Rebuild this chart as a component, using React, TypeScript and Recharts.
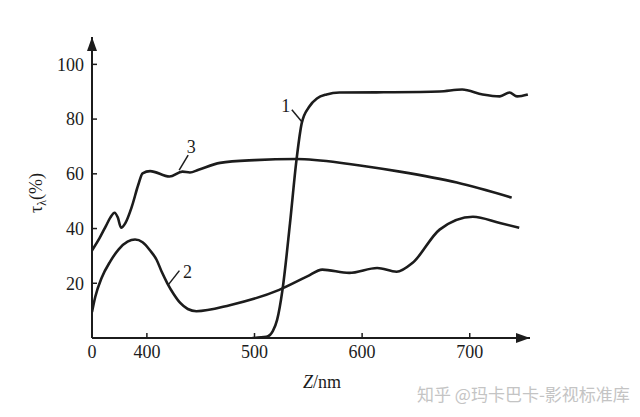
import { LineChart, Line, XAxis, YAxis, ReferenceDot } from 'recharts';

// wavelength (nm) / transmittance (%)
const curve1 = [
  { nm: 498, v: 0 }, { nm: 511, v: 0.4 }, { nm: 517, v: 2.5 }, { nm: 521, v: 6.6 },
  { nm: 526, v: 17.6 }, { nm: 533, v: 42 }, { nm: 539, v: 65 }, { nm: 544, v: 78.7 },
  { nm: 551, v: 84.6 }, { nm: 558, v: 87.5 }, { nm: 567, v: 89 }, { nm: 579, v: 89.7 },
  { nm: 620, v: 89.8 }, { nm: 672, v: 90.1 }, { nm: 693, v: 90.8 }, { nm: 712, v: 89 },
  { nm: 728, v: 88.3 }, { nm: 737, v: 89.7 }, { nm: 744, v: 88.3 }, { nm: 754, v: 89 },
];

const curve2 = [
  { nm: 349, v: 9.5 }, { nm: 352, v: 15 }, { nm: 358, v: 22 }, { nm: 366, v: 28 },
  { nm: 374, v: 32.5 }, { nm: 382, v: 35.2 }, { nm: 389, v: 36 }, { nm: 396, v: 35 },
  { nm: 403, v: 32 }, { nm: 409, v: 28.6 }, { nm: 414, v: 24 }, { nm: 419, v: 20 },
  { nm: 425, v: 16 }, { nm: 431, v: 12.8 }, { nm: 438, v: 10.6 }, { nm: 446, v: 9.8 },
  { nm: 477, v: 12 }, { nm: 523, v: 17.6 }, { nm: 549, v: 22.5 }, { nm: 563, v: 25 },
  { nm: 588, v: 23.8 }, { nm: 614, v: 25.6 }, { nm: 632, v: 24.2 }, { nm: 647, v: 27.5 },
  { nm: 672, v: 39.6 }, { nm: 703, v: 44.3 }, { nm: 728, v: 42 }, { nm: 746, v: 40.3 },
];

const curve3 = [
  { nm: 349, v: 32 }, { nm: 356, v: 36.5 }, { nm: 362, v: 41 }, { nm: 366, v: 44 },
  { nm: 370, v: 45.8 }, { nm: 373, v: 44 }, { nm: 376, v: 40.3 }, { nm: 380, v: 42 },
  { nm: 386, v: 48 }, { nm: 392, v: 56 }, { nm: 396, v: 60.2 }, { nm: 403, v: 61 },
  { nm: 421, v: 59 }, { nm: 433, v: 60.8 }, { nm: 440, v: 60.5 }, { nm: 448, v: 61.5 },
  { nm: 468, v: 64 }, { nm: 500, v: 65 }, { nm: 539, v: 65.4 }, { nm: 588, v: 63.6 },
  { nm: 635, v: 60.8 }, { nm: 688, v: 56.8 }, { nm: 739, v: 51.3 },
];

const xTicks = [349, 400, 500, 600, 700];
const yTicks = [20, 40, 60, 80, 100];

const ink = '#1c1c1c';
const serif = '"Liberation Serif", "DejaVu Serif", serif';

export default function App() {
  return (
    <div style={{ position: 'absolute', left: 0, top: 0, width: 640, height: 417, background: '#fff' }}>
      <LineChart width={640} height={417} margin={{ top: 37, right: 110, left: 0, bottom: 49 }}>
        <XAxis
          type="number"
          dataKey="nm"
          domain={[349, 756]}
          ticks={xTicks}
          allowDataOverflow
          tickFormatter={(t) => (t === 349 ? '0' : String(t))}
          tickSize={-5}
          tickMargin={12}
          height={30}
          axisLine={{ stroke: ink, strokeWidth: 2 }}
          tickLine={{ stroke: ink, strokeWidth: 1.5 }}
          tick={{ fill: ink, fontSize: 18, fontFamily: serif }}
          label={{
            content: () => (
              <text x={322} y={388} textAnchor="middle" fill={ink} fontSize={18} fontFamily={serif}>
                <tspan fontStyle="italic">Z</tspan>/nm
              </text>
            ),
          }}
        />
        <YAxis
          type="number"
          domain={[0, 110]}
          ticks={yTicks}
          allowDataOverflow
          width={92}
          tickSize={-5}
          tickMargin={13}
          axisLine={{ stroke: ink, strokeWidth: 2 }}
          tickLine={{ stroke: ink, strokeWidth: 1.5 }}
          tick={{ fill: ink, fontSize: 18, fontFamily: serif }}
          label={{
            content: () => (
              <text
                x={0}
                y={0}
                transform="translate(42,193) rotate(-90)"
                textAnchor="middle"
                fill={ink}
                fontSize={18}
                fontFamily={serif}
              >
                τ<tspan fontSize={12} dy={4}>λ</tspan>
                <tspan dy={-4}>(%)</tspan>
              </text>
            ),
          }}
        />
        <Line data={curve1} dataKey="v" type="monotone" stroke={ink} strokeWidth={2.6} dot={false} isAnimationActive={false} />
        <Line data={curve2} dataKey="v" type="monotone" stroke={ink} strokeWidth={2.6} dot={false} isAnimationActive={false} />
        <Line data={curve3} dataKey="v" type="monotone" stroke={ink} strokeWidth={2.6} dot={false} isAnimationActive={false} />
        <ReferenceDot
          x={756}
          y={0}
          ifOverflow="visible"
          shape={(p: any) => (
            <polygon points={`${p.cx},${p.cy} ${p.cx - 14},${p.cy - 5} ${p.cx - 14},${p.cy + 5}`} fill={ink} />
          )}
        />
        <ReferenceDot
          x={349}
          y={110}
          ifOverflow="visible"
          shape={(p: any) => (
            <polygon points={`${p.cx},${p.cy} ${p.cx - 5},${p.cy + 14} ${p.cx + 5},${p.cy + 14}`} fill={ink} />
          )}
        />
        <ReferenceDot
          x={544}
          y={78.7}
          ifOverflow="visible"
          shape={(p: any) => (
            <g>
              <line x1={p.cx - 10} y1={p.cy - 13} x2={p.cx} y2={p.cy - 1} stroke={ink} strokeWidth={1.5} />
              <text x={p.cx - 16} y={p.cy - 11} textAnchor="middle" fill={ink} fontSize={18} fontFamily={serif}>1</text>
            </g>
          )}
        />
        <ReferenceDot
          x={430}
          y={60.6}
          ifOverflow="visible"
          shape={(p: any) => (
            <g>
              <line x1={p.cx + 9} y1={p.cy - 17} x2={p.cx} y2={p.cy - 2} stroke={ink} strokeWidth={1.5} />
              <text x={p.cx + 12} y={p.cy - 19} textAnchor="middle" fill={ink} fontSize={18} fontFamily={serif}>3</text>
            </g>
          )}
        />
        <ReferenceDot
          x={420}
          y={19.5}
          ifOverflow="visible"
          shape={(p: any) => (
            <g>
              <line x1={p.cx + 11} y1={p.cy - 14} x2={p.cx} y2={p.cy} stroke={ink} strokeWidth={1.5} />
              <text x={p.cx + 19} y={p.cy - 7} textAnchor="middle" fill={ink} fontSize={18} fontFamily={serif}>2</text>
            </g>
          )}
        />
      </LineChart>
      <div
        style={{
          position: 'absolute',
          left: 417,
          top: 381,
          color: '#c4c4c4',
          fontSize: 17,
          fontFamily: '"Noto Sans CJK SC", sans-serif',
          whiteSpace: 'nowrap',
        }}
      >
        知乎 @玛卡巴卡-影视标准库
      </div>
    </div>
  );
}
